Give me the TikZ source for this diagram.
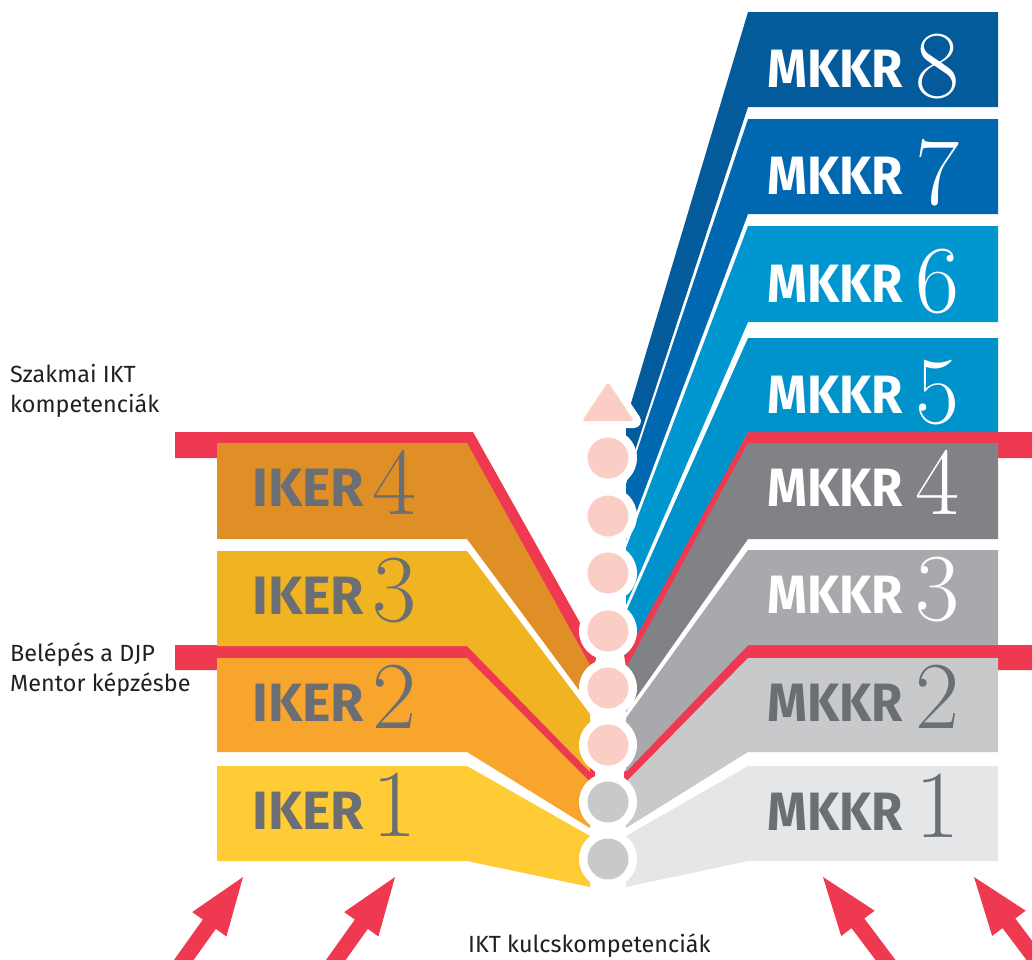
\documentclass[tikz,border=0pt]{standalone}
\usepackage{fontspec}
\usepackage{graphicx}
\newfontfamily\sansf{Fira Sans}
\definecolor{redc}{HTML}{EF3950}
\definecolor{ik4}{HTML}{E08E26}
\definecolor{ik3}{HTML}{F0B322}
\definecolor{ik2}{HTML}{F8A52E}
\definecolor{ik1}{HTML}{FFCC35}
\definecolor{mk8}{HTML}{035B9C}
\definecolor{mk7}{HTML}{0067B1}
\definecolor{mk6}{HTML}{0096D0}
\definecolor{mk5}{HTML}{0093CB}
\definecolor{mk4}{HTML}{808286}
\definecolor{mk3}{HTML}{A7A9AC}
\definecolor{mk2}{HTML}{C8C9CB}
\definecolor{mk1}{HTML}{E5E6E8}
\definecolor{pinkc}{HTML}{FBCEC5}
\definecolor{grayc}{HTML}{C8C9CB}
\definecolor{txtgray}{HTML}{6B6E73}
\definecolor{labc}{HTML}{231F20}
\newcommand\mkword{\scalebox{0.94}[1]{MKKR}}
\tikzset{
  word/.style={anchor=base west, inner sep=0pt, font=\sansf\bfseries\fontsize{54}{60}\selectfont},
  digit/.style={anchor=base west, inner sep=0pt, font=\fontsize{96}{100}\selectfont},
  lab/.style={anchor=base west, inner sep=0pt, text=labc, font=\sansf\fontsize{23.4}{30}\selectfont},
  arrowfill/.style={fill=redc}
}
\begin{document}
\begin{tikzpicture}[x=1pt,y=-1pt]
\useasboundingbox (0,0) rectangle (1032,959);
\clip (0,0) rectangle (1032,959);

% red lines (drawn below the bands)
\fill[redc] (175,432) -- (473,432) [rounded corners=9pt] -- (598,655) [sharp corners] -- (585,690) -- (467,458) -- (175,458) -- cycle;
\fill[redc] (175,645) -- (467,645) -- (595,772) -- (595,792) -- (467,670) -- (175,670) -- cycle;
\fill[redc] (1032,432) -- (748,432) -- (624,655) -- (630,690) -- (748,460) -- (1032,458) -- cycle;
\fill[redc] (1032,645) -- (748,645) -- (624,772) -- (624,795) -- (748,670) -- (1032,670) -- cycle;

% left bands
\fill[ik4] (217,443) -- (467,443) -- (590,665) -- (590,705) -- (467,539) -- (217,539) -- cycle;
\fill[ik3] (217,551) -- (467,551) -- (590,714) -- (590,772) -- (467,646) -- (217,646) -- cycle;
\fill[ik2] (217,658) -- (467,658) -- (590,782) -- (590,828) -- (467,752) -- (217,752) -- cycle;
\fill[ik1] (217,766) -- (467,766) -- (590,836) -- (590,887) -- (467,861) -- (217,861) -- cycle;

% right bands
\fill[mk8] (998,12) -- (748,12) -- (626,420) -- (626,478) -- (748,107) -- (998,107) -- cycle;
\fill[mk7] (998,119) -- (748,119) -- (626,484) -- (626,540) -- (748,214) -- (998,214) -- cycle;
\fill[mk6] (998,226) -- (748,226) -- (626,548) -- (626,605) -- (748,322) -- (998,322) -- cycle;
\fill[mk5] (998,338) -- (748,338) -- (626,612) -- (626,655) -- (748,432) -- (998,432) -- cycle;
\fill[mk4] (998,443) -- (748,443) -- (626,668) -- (626,712) -- (748,539) -- (998,539) -- cycle;
\fill[mk3] (998,550) -- (748,550) -- (626,718) -- (626,772) -- (748,645) -- (998,645) -- cycle;
\fill[mk2] (998,658) -- (748,658) -- (626,782) -- (626,828) -- (748,752) -- (998,752) -- cycle;
\fill[mk1] (998,766) -- (748,766) -- (626,836) -- (626,887) -- (748,861) -- (998,861) -- cycle;

% column of circles
\filldraw[white, line width=14pt, line join=round] (608,382) -- (634,421) -- (582,421) -- cycle;
\fill[pinkc, rounded corners=3pt] (608,382) -- (634,421) -- (582,421) -- cycle;
\foreach \yy in {458,516,573,631,688,745,802,859} {
  \fill[white] (608,\yy) circle[radius=29pt];
}
\foreach \yy in {458,516,573,631,688,745} {
  \fill[pinkc] (608,\yy) circle[radius=20.5pt];
}
\foreach \yy in {802,859} {
  \fill[grayc] (608,\yy) circle[radius=20.5pt];
}

% IKER texts
\node[word, text=txtgray] (ik4w) at (252,506) {IKER};
\node[digit, text=txtgray] (ik4d) at (372,514) {4};
\node[word, text=txtgray] (ik3w) at (252,614) {IKER};
\node[digit, text=txtgray] (ik3d) at (372,621) {3};
\node[word, text=txtgray] (ik2w) at (252,721) {IKER};
\node[digit, text=txtgray] (ik2d) at (372,728) {2};
\node[word, text=txtgray] (ik1w) at (252,829) {IKER};
\node[digit, text=txtgray] (ik1d) at (372,836) {1};

% MKKR texts
\node[word, text=white] (mk8w) at (767,87) {\mkword};
\node[digit, text=white] (mk8d) at (915,97) {8};
\node[word, text=white] (mk7w) at (767,194) {\mkword};
\node[digit, text=white] (mk7d) at (915,204) {7};
\node[word, text=white] (mk6w) at (767,302) {\mkword};
\node[digit, text=white] (mk6d) at (915,312) {6};
\node[word, text=white] (mk5w) at (767,413) {\mkword};
\node[digit, text=white] (mk5d) at (915,423) {5};
\node[word, text=white] (mk4w) at (767,506) {\mkword};
\node[digit, text=white] (mk4d) at (915,514) {4};
\node[word, text=white] (mk3w) at (767,613) {\mkword};
\node[digit, text=white] (mk3d) at (915,620) {3};
\node[word, text=txtgray] (mk2w) at (767,721) {\mkword};
\node[digit, text=txtgray] (mk2d) at (915,728) {2};
\node[word, text=txtgray] (mk1w) at (767,830) {\mkword};
\node[digit, text=txtgray] (mk1d) at (915,837) {1};

% labels
\node[lab] (l1a) at (10,382) {Szakmai IKT};
\node[lab] (l1b) at (10,412) {kompetenciák};
\node[lab] (l2a) at (10,661) {Belépés a DJP};
\node[lab] (l2b) at (10,691) {Mentor képzésbe};
\node[lab] (l3) at (468,952) {IKT kulcskompetenciák};

% red arrows
\foreach \tx/\ang in {243/54.5, 395/54.5, 823/127, 974/127} {
  \begin{scope}[shift={(\tx,877)}, rotate=\ang]
    \fill[arrowfill] (0pt,0pt) -- (-58pt,21pt) -- (-58pt,8pt) -- (-160pt,8pt) -- (-160pt,-8pt) -- (-58pt,-8pt) -- (-58pt,-21pt) -- cycle;
  \end{scope}
}
\end{tikzpicture}
\end{document}
